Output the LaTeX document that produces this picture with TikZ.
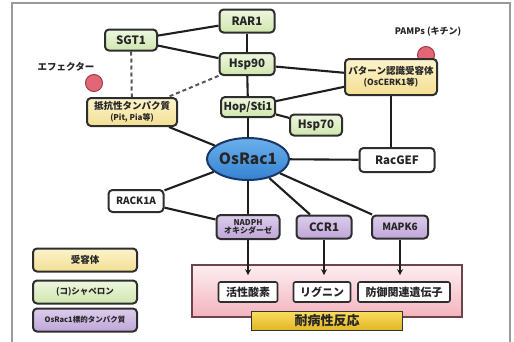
\documentclass[tikz,border=0pt]{standalone}
\usepackage{fontspec}
\setmainfont{Noto Sans CJK JP}
\usetikzlibrary{arrows.meta,shapes.geometric,backgrounds}
\definecolor{edgec}{HTML}{1e1e1e}
\definecolor{bordc}{HTML}{2e2e2e}
\definecolor{frame}{HTML}{9a9a9a}
\definecolor{gtop}{HTML}{EEF7DF}
\definecolor{gbot}{HTML}{CFE6AE}
\definecolor{ytop}{HTML}{FCF3CC}
\definecolor{ybot}{HTML}{F3DF92}
\definecolor{ptop}{HTML}{DCCDEB}
\definecolor{pbot}{HTML}{BFA6D8}
\definecolor{btop}{HTML}{6BB0EC}
\definecolor{bbot}{HTML}{3582D2}
\definecolor{bbord}{HTML}{173866}
\definecolor{pktop}{HTML}{FDEEF0}
\definecolor{pkbot}{HTML}{F4B3BE}
\definecolor{pkbord}{HTML}{6E4448}
\definecolor{gdtop}{HTML}{F8DE5E}
\definecolor{gdbot}{HTML}{E2B423}
\definecolor{rball}{HTML}{E36676}
\definecolor{rbord}{HTML}{9E3A4A}
\begin{document}
\begin{tikzpicture}[x=1pt,y=-1pt,
  basebox/.style={rectangle, rounded corners=4pt, draw=bordc, line width=2pt, inner sep=1pt, align=center, font=\bfseries\fontsize{11.5}{12}\selectfont, text=black!85},
  gbox/.style={basebox, top color=gtop, bottom color=gbot},
  ybox/.style={basebox, top color=ytop, bottom color=ybot},
  pbox/.style={basebox, top color=ptop, bottom color=pbot},
  wbox/.style={basebox, fill=white},
  ibox/.style={basebox, rounded corners=2pt, line width=1.6pt, fill=white, font=\bfseries\fontsize{11}{12}\selectfont},
  link/.style={draw=edgec, line width=2.1pt},
  dlink/.style={draw=edgec!75, line width=2pt, dash pattern=on 4pt off 3pt},
  alink/.style={draw=edgec, line width=2pt, -{Stealth[length=6pt,width=6pt]}, shorten >=6pt},
  redball/.style={circle, fill=rball, draw=rbord, line width=1pt, minimum size=17pt, inner sep=0pt}
]
\useasboundingbox (0,0) rectangle (514,341);
\draw[frame, line width=1.5pt] (12,345) -- (12,3) -- (510,3) -- (510,345);

% red balls (behind boxes)
\node[redball] (eball) at (94,83) {};
\node[redball] (pball) at (426,55) {};
\node[font=\bfseries\fontsize{9.5}{10}\selectfont, text=black!85] (elabel) at (66,67) {エフェクター};
\node[font=\bfseries\fontsize{9}{10}\selectfont, text=black!85] (plabel) at (428,32) {PAMPs (キチン)};

% nodes
\node[gbox, minimum width=55, minimum height=23] (rar1) at (247,21) {RAR1};
\node[gbox, minimum width=52, minimum height=21] (sgt1) at (131,40) {SGT1};
\node[gbox, minimum width=55, minimum height=22] (hsp90) at (247,64) {Hsp90};
\node[gbox, minimum width=54, minimum height=20, font=\bfseries\fontsize{11}{12}\selectfont] (hop) at (248,107) {Hop/Sti1};
\node[gbox, minimum width=52, minimum height=21] (hsp70) at (316,125) {Hsp70};
\node[ybox, minimum width=92, minimum height=36, font=\bfseries\fontsize{9.5}{11}\selectfont] (recv) at (391,77) {パターン認識受容体\\{\fontsize{8.5}{9}\selectfont (OsCERK1等)}};
\node[ybox, minimum width=90, minimum height=28, font=\bfseries\fontsize{9.5}{11}\selectfont] (rprot) at (132,112) {抵抗性タンパク質\\{\fontsize{8}{9}\selectfont (Pit, Pia等)}};
\node[ellipse, draw=bbord, line width=2pt, top color=btop, bottom color=bbot, minimum width=77, minimum height=42, inner sep=0pt, font=\bfseries\fontsize{15.5}{16}\selectfont, text=black!85] (osrac) at (248,159) {OsRac1};
\node[wbox, minimum width=75, minimum height=24] (racgef) at (397,160) {RacGEF};
\node[wbox, minimum width=55, minimum height=22, font=\bfseries\fontsize{10}{10}\selectfont] (rack) at (136,201) {RACK1A};
\node[pbox, minimum width=63, minimum height=24, font=\bfseries\fontsize{8}{8.5}\selectfont] (nadph) at (248,227) {NADPH\\オキシダーゼ};
\node[pbox, minimum width=55, minimum height=23] (ccr1) at (324,227) {CCR1};
\node[pbox, minimum width=56, minimum height=23, font=\bfseries\fontsize{10}{10}\selectfont] (mapk6) at (400,227) {MAPK6};

% response area
\node[rectangle, draw=pkbord, line width=1.6pt, top color=pktop, bottom color=pkbot, minimum width=270, minimum height=52] (pink) at (327,291) {};
\node[ibox, minimum width=59, minimum height=20] (ros) at (248,292) {活性酸素};
\node[ibox, minimum width=57, minimum height=20] (lig) at (322,292) {リグニン};
\node[ibox, minimum width=92, minimum height=20] (defg) at (404,292) {防御関連遺伝子};
\node[rectangle, draw=black!80, line width=1.6pt, top color=gdtop, bottom color=gdbot, minimum width=151, minimum height=18, font=\bfseries\fontsize{13}{13}\selectfont, text=black!85] (gold) at (327,321) {耐病性反応};

% legend
\node[ybox, minimum width=104, minimum height=23, font=\bfseries\fontsize{9.5}{10}\selectfont] (leg1) at (85,260) {受容体};
\node[gbox, minimum width=104, minimum height=23, font=\bfseries\fontsize{8.5}{10}\selectfont] (leg2) at (85,292) {(コ)シャペロン};
\node[pbox, minimum width=104, minimum height=23, font=\bfseries\fontsize{7.5}{9}\selectfont] (leg3) at (85,320) {OsRac1標的タンパク質};

% connectors
\begin{scope}[on background layer]
\draw[link] (sgt1) -- (rar1);
\draw[link] (sgt1) -- (hsp90);
\draw[link] (rar1) -- (hsp90);
\draw[link] (hsp90) -- (hop);
\draw[link] (hop) -- (osrac);
\draw[link] (hop) -- (hsp70);
\draw[link] (hsp90) -- (recv);
\draw[link] (hop) -- (recv);
\draw[link] (recv.south) -- (recv.south |- racgef.north);
\draw[link] (osrac) -- (racgef);
\draw[dlink] (sgt1) -- (rprot);
\draw[dlink] (hsp90) -- (rprot);
\draw[link] (rprot) -- (osrac);
\draw[link] (osrac) -- (rack);
\draw[link] (osrac) -- (nadph);
\draw[link] (osrac) -- (ccr1);
\draw[link] (osrac) -- (mapk6);
\draw[link] (rack) -- (nadph);
\end{scope}
\draw[alink] (nadph) -- (ros);
\draw[alink] (ccr1) -- (ccr1 |- lig.north);
\draw[alink] (mapk6) -- (mapk6 |- defg.north);
\end{tikzpicture}
\end{document}
